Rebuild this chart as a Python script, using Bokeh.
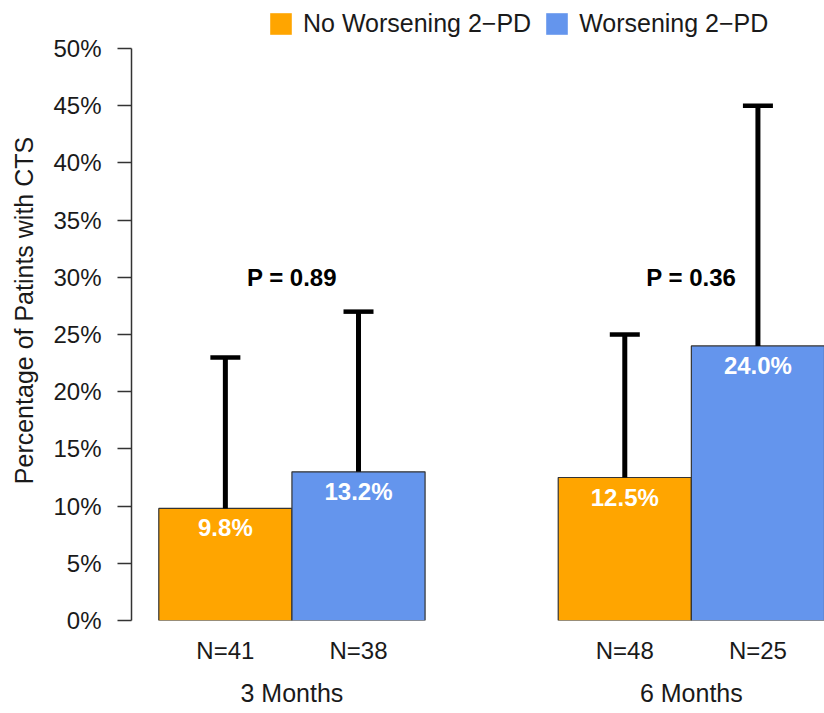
from bokeh.plotting import figure
from bokeh.models import (ColumnDataSource, Range1d, FixedTicker, LinearAxis,
                          Whisker, TeeHead, Legend, LegendItem)
from bokeh.core.properties import value
from bokeh.embed import file_html
from bokeh.resources import INLINE

# ---------------- data ----------------
groups = ["3 Months", "6 Months"]
series = ["No Worsening 2\u2212PD", "Worsening 2\u2212PD"]
n_labels = [["N=41", "N=38"], ["N=48", "N=25"]]
pct = [[9.8, 13.0], [12.5, 24.0]]
pct_labels = [["9.8%", "13.2%"], ["12.5%", "24.0%"]]
upper_ci = [[23.0, 27.0], [25.0, 45.0]]
p_values = ["P = 0.89", "P = 0.36"]
y_ticks = [0, 5, 10, 15, 20, 25, 30, 35, 40, 45, 50]
colors = ["#FFA500", "#6495ED"]

FONT = "Liberation Sans"
P_LABEL_Y = 30

# ---------------- layout helpers ----------------
xs, tops, labels, uppers, fills, nlab = [], [], [], [], [], []
for g in range(len(groups)):
    for s in range(len(series)):
        xs.append(g * 3 + s + 0.5)
        tops.append(pct[g][s])
        labels.append(pct_labels[g][s])
        uppers.append(upper_ci[g][s])
        fills.append(colors[s])
        nlab.append(n_labels[g][s])
group_x = [g * 3 + 1.0 for g in range(len(groups))]

src = ColumnDataSource(dict(x=xs, top=tops, label=labels, upper=uppers, color=fills))

p = figure(width=824, height=713, x_range=Range1d(-0.205, 5.0), y_range=Range1d(0, 54.2),
           output_backend="svg", toolbar_location=None, title=None,
           min_border_left=131, min_border_right=0, min_border_top=0, min_border_bottom=93)
p.grid.visible = False
p.outline_line_color = None
p.background_fill_color = "white"

p.vbar(x="x", top="top", bottom=0, width=1.0, fill_color="color", line_color="#333333",
       line_width=1.2, source=src)

wh = Whisker(base="x", lower="top", upper="upper", source=src, line_width=5, line_color="black",
             upper_head=TeeHead(size=30, line_width=4.5, line_color="black"), lower_head=None,
             level="annotation")
p.add_layout(wh)

p.text(x="x", y="top", text="label", source=src, text_color="white", text_font=value(FONT),
       text_font_style="bold", text_font_size="24px", text_align="center", text_baseline="top",
       y_offset=6)

p.text(x=group_x, y=[P_LABEL_Y] * len(group_x), text=p_values, text_color="black",
       text_font=value(FONT), text_font_style="bold", text_font_size="24px",
       text_align="center", text_baseline="middle")

# legend proxies (no outline on legend squares); NaN data so nothing is drawn in the plot
nan = float("nan")
proxies = [p.vbar(x=[nan], top=[nan], width=1, fill_color=c, line_color=None) for c in colors]
legend = Legend(items=[LegendItem(label=series[i], renderers=[proxies[i]]) for i in range(len(series))],
                orientation="horizontal", location=(136, 582), padding=0, margin=0,
                glyph_width=27, glyph_height=27, label_standoff=9, spacing=12,
                label_text_font=FONT, label_text_font_size="25px", label_text_color="#1a1a1a",
                border_line_color=None, background_fill_alpha=0)
p.add_layout(legend)

# y axis
ya = p.yaxis[0]
ya.bounds = (0, 50)
ya.ticker = FixedTicker(ticks=y_ticks)
ya.major_label_overrides = {t: f"{t}%" for t in y_ticks}
ya.minor_tick_line_color = None
ya.major_tick_out = 14
ya.major_tick_in = 0
ya.major_label_standoff = 16
ya.major_label_text_font = FONT
ya.major_label_text_font_size = "24px"
ya.major_label_text_color = "#1a1a1a"
ya.axis_line_color = "#333333"
ya.axis_line_width = 1.5
ya.major_tick_line_color = "#333333"
ya.major_tick_line_width = 1.5
ya.axis_label = "Percentage of Patints with CTS"
ya.axis_label_text_font = FONT
ya.axis_label_text_font_size = "25px"
ya.axis_label_text_font_style = "normal"
ya.axis_label_text_color = "#1a1a1a"
ya.axis_label_standoff = 12

# x axis: N labels
xa = p.xaxis[0]
xa.ticker = FixedTicker(ticks=xs)
xa.major_label_overrides = {x: n for x, n in zip(xs, nlab)}
xa.axis_line_color = None
xa.major_tick_line_color = None
xa.minor_tick_line_color = None
xa.major_tick_out = 0
xa.major_tick_in = 0
xa.major_label_standoff = 16
xa.major_label_text_font = FONT
xa.major_label_text_font_size = "24px"
xa.major_label_text_color = "#1a1a1a"

# second x axis: group labels
xa2 = LinearAxis(ticker=FixedTicker(ticks=group_x),
                 major_label_overrides={x: g for x, g in zip(group_x, groups)})
xa2.axis_line_color = None
xa2.major_tick_line_color = None
xa2.minor_tick_line_color = None
xa2.major_tick_out = 0
xa2.major_tick_in = 0
xa2.major_label_standoff = 12
xa2.major_label_text_font = FONT
xa2.major_label_text_font_size = "25px"
xa2.major_label_text_color = "#1a1a1a"
p.add_layout(xa2, "below")

open("out.html", "w").write(file_html(p, INLINE))
